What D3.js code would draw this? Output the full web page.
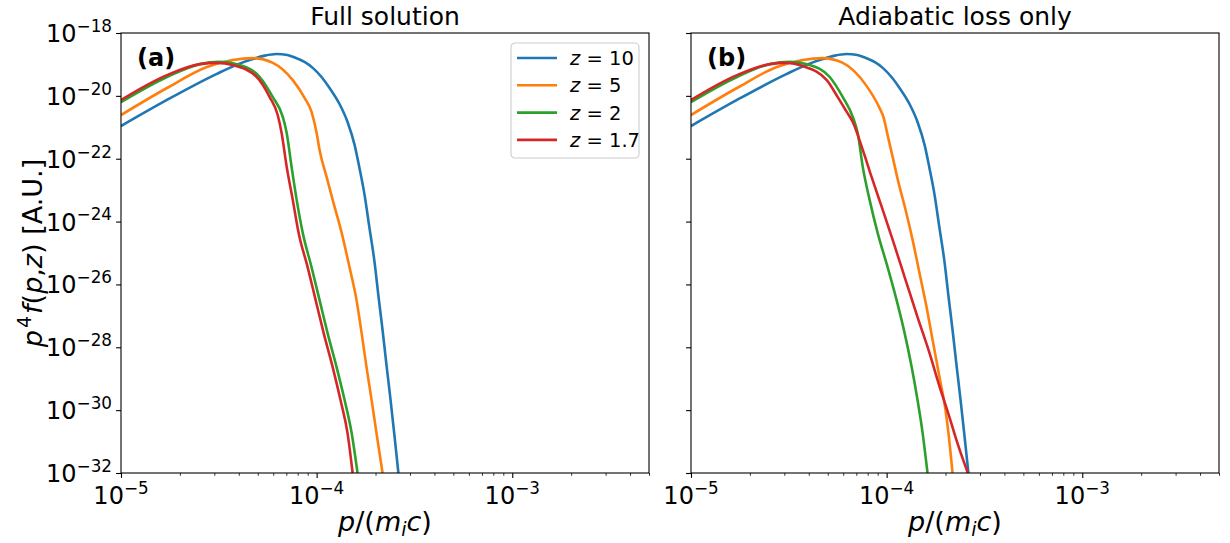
<!DOCTYPE html>
<html><head><meta charset="utf-8">
<script src="https://cdn.jsdelivr.net/npm/d3@7"></script>
<style>body{margin:0;background:#fff}svg{display:block}</style>
</head><body><svg id="c" width="1230" height="543"></svg>
<script>
// ---------- data ----------
const zLabels = ["10", "5", "2", "1.7"];
const colors = ["#1f77b4", "#ff7f0e", "#2ca02c", "#d62728"];
const panelTitles = ["Full solution", "Adiabatic loss only"];
const panelTags = ["(a)", "(b)"];
const xTickExps = [-5, -4, -3];
const yTickExps = [-32, -30, -28, -26, -24, -22, -20, -18];
const xDomain = [1e-5, 5e-3];
const yDomain = [1e-32, 1e-18];

// each point: [log10 p/(m_i c), log10 p^4 f]
const z10 = [[-5.000,-20.96],[-4.765,-20.13],[-4.510,-19.30],[-4.400,-18.99],[-4.327,-18.83],[-4.265,-18.72],[-4.204,-18.67],[-4.150,-18.70],[-4.112,-18.78],[-4.060,-18.93],[-4.020,-19.11],[-3.975,-19.40],[-3.934,-19.75],[-3.883,-20.26],[-3.842,-20.83],[-3.806,-21.56],[-3.781,-22.30],[-3.755,-23.15],[-3.730,-24.20],[-3.704,-25.29],[-3.684,-26.37],[-3.663,-27.45],[-3.643,-28.56],[-3.622,-29.68],[-3.602,-30.82],[-3.582,-32.0]];

const fullZ5 = [[-5.000,-20.61],[-4.765,-19.75],[-4.561,-19.08],[-4.429,-18.86],[-4.327,-18.80],[-4.224,-18.95],[-4.122,-19.50],[-4.061,-20.07],[-4.026,-20.51],[-4.000,-21.18],[-3.985,-21.72],[-3.949,-22.58],[-3.918,-23.31],[-3.872,-24.36],[-3.832,-25.45],[-3.796,-26.50],[-3.770,-27.55],[-3.745,-28.63],[-3.719,-29.68],[-3.694,-30.73],[-3.663,-32.0]];

const fullZ2 = [[-5.000,-20.20],[-4.765,-19.40],[-4.597,-18.99],[-4.495,-18.92],[-4.393,-19.02],[-4.291,-19.40],[-4.224,-20.04],[-4.173,-20.67],[-4.153,-21.18],[-4.128,-22.26],[-4.102,-23.31],[-4.071,-24.36],[-4.026,-25.45],[-3.985,-26.50],[-3.944,-27.55],[-3.898,-28.63],[-3.857,-29.68],[-3.821,-30.73],[-3.791,-32.0]];

const fullZ17 = [[-5.000,-20.13],[-4.765,-19.34],[-4.597,-18.99],[-4.510,-18.95],[-4.429,-19.02],[-4.306,-19.40],[-4.240,-20.04],[-4.199,-20.61],[-4.179,-21.18],[-4.153,-22.26],[-4.122,-23.31],[-4.092,-24.36],[-4.046,-25.45],[-4.005,-26.50],[-3.964,-27.55],[-3.918,-28.63],[-3.878,-29.68],[-3.842,-30.73],[-3.816,-32.0]];

const adiaZ5 = [[-5.000,-20.61],[-4.765,-19.75],[-4.561,-19.08],[-4.429,-18.86],[-4.327,-18.80],[-4.224,-18.95],[-4.102,-19.69],[-4.036,-20.39],[-4.015,-20.70],[-3.995,-21.25],[-3.969,-21.95],[-3.939,-22.77],[-3.903,-23.63],[-3.867,-24.59],[-3.832,-25.64],[-3.796,-26.72],[-3.765,-27.77],[-3.730,-28.94],[-3.699,-30.00],[-3.684,-30.73],[-3.663,-32.0]];

const adiaZ2 = [[-5.000,-20.20],[-4.765,-19.40],[-4.597,-18.99],[-4.495,-18.92],[-4.393,-19.02],[-4.291,-19.40],[-4.224,-20.04],[-4.173,-20.67],[-4.148,-21.18],[-4.122,-22.26],[-4.087,-23.31],[-4.046,-24.36],[-3.995,-25.45],[-3.949,-26.50],[-3.908,-27.55],[-3.872,-28.63],[-3.842,-29.68],[-3.816,-30.73],[-3.791,-32.0]];

const adiaZ17 = [[-5.000,-20.13],[-4.765,-19.34],[-4.597,-18.99],[-4.510,-18.95],[-4.429,-19.05],[-4.306,-19.50],[-4.250,-20.04],[-4.204,-20.51],[-4.173,-20.83],[-4.122,-21.72],[-4.077,-22.58],[-4.020,-23.63],[-3.964,-24.68],[-3.903,-25.86],[-3.842,-27.04],[-3.781,-28.18],[-3.735,-29.14],[-3.679,-30.22],[-3.638,-31.05],[-3.585,-32.0]];

const panelSeries = [
  [z10, fullZ5, fullZ2, fullZ17],
  [z10, adiaZ5, adiaZ2, adiaZ17]
];

// ---------- layout ----------
const FONT = "DejaVu Sans";
const panelX = [121, 691];
const plotTop = 33, W = 528, H = 440;
const svg = d3.select("#c");

const x = d3.scaleLog().domain(xDomain).range([0, W]);
const y = d3.scaleLog().domain(yDomain).range([H, 0]);

function powLabel(sel, exp, size) {
  sel.append("tspan").text("10");
  sel.append("tspan").attr("font-size", size * 0.7).attr("dy", -size * 0.42)
     .text("\u2212" + Math.abs(exp));
}

panelSeries.forEach((series, pi) => {
  const g = svg.append("g").attr("transform", `translate(${panelX[pi]},${plotTop})`);
  const cid = "clip" + pi;
  g.append("clipPath").attr("id", cid).append("rect").attr("width", W).attr("height", H);

  // minor x ticks
  const minor = x.ticks().filter(v => Math.abs(Math.log10(v) - Math.round(Math.log10(v))) > 1e-6);
  g.append("g").attr("transform", `translate(0,${H})`)
    .call(d3.axisBottom(x).tickValues(minor).tickSize(2.8).tickFormat("").tickSizeOuter(0))
    .call(a => a.select(".domain").remove())
    .call(a => a.selectAll("line").attr("stroke", "#000").attr("stroke-width", 0.8));
  // major x ticks
  const xa = g.append("g").attr("transform", `translate(0,${H})`)
    .call(d3.axisBottom(x).tickValues(xTickExps.map(e => Math.pow(10, e))).tickSize(4.9).tickFormat("").tickSizeOuter(0));
  xa.select(".domain").remove();
  xa.selectAll("line").attr("stroke", "#000").attr("stroke-width", 1.1);
  xTickExps.forEach(e => {
    const t = g.append("text").attr("x", x(Math.pow(10, e))).attr("y", H + 31)
      .attr("text-anchor", "middle").attr("font-family", FONT).attr("font-size", 24).attr("fill", "#000");
    powLabel(t, e, 24);
  });

  // y ticks
  const ya = g.append("g")
    .call(d3.axisLeft(y).tickValues(yTickExps.map(e => Math.pow(10, e))).tickSize(4.9).tickFormat("").tickSizeOuter(0));
  ya.select(".domain").remove();
  ya.selectAll("line").attr("stroke", "#000").attr("stroke-width", 1.1);
  if (pi === 0) {
    yTickExps.forEach(e => {
      const t = g.append("text").attr("x", -9).attr("y", y(Math.pow(10, e)) + 9)
        .attr("text-anchor", "end").attr("font-family", FONT).attr("font-size", 24).attr("fill", "#000");
      powLabel(t, e, 24);
    });
  }

  // curves
  const line = d3.line()
    .x(d => x(Math.pow(10, d[0])))
    .y(d => y(Math.pow(10, d[1])))
    .curve(d3.curveMonotoneX);
  const cg = g.append("g").attr("clip-path", `url(#${cid})`);
  series.forEach((s, si) => {
    cg.append("path").datum(s).attr("d", line)
      .attr("fill", "none").attr("stroke", colors[si]).attr("stroke-width", 2.6)
      .attr("stroke-linejoin", "round").attr("stroke-linecap", "butt");
  });

  // frame
  g.append("rect").attr("width", W).attr("height", H)
    .attr("fill", "none").attr("stroke", "#000").attr("stroke-width", 1.1);

  // title
  svg.append("text").attr("x", panelX[pi] + W / 2).attr("y", 25)
    .attr("text-anchor", "middle").attr("font-family", FONT).attr("font-size", 25)
    .attr("fill", "#000").text(panelTitles[pi]);

  // tag
  g.append("text").attr("x", 16).attr("y", 33).attr("font-family", FONT)
    .attr("font-size", 24).attr("font-weight", "bold").attr("fill", "#000").text(panelTags[pi]);

  // x label
  const xl = svg.append("text").attr("x", panelX[pi] + W / 2).attr("y", 531)
    .attr("text-anchor", "middle").attr("font-family", FONT).attr("font-size", 27).attr("fill", "#000");
  xl.append("tspan").attr("font-style", "italic").text("p");
  xl.append("tspan").text("/(");
  xl.append("tspan").attr("font-style", "italic").text("m");
  xl.append("tspan").attr("font-style", "italic").attr("font-size", 19).attr("dy", 5).text("i");
  xl.append("tspan").attr("font-style", "italic").attr("dy", -5).text("c");
  xl.append("tspan").text(")");

  // legend
  if (pi === 0) {
    const lg = g.append("g").attr("transform", `translate(${W - 138},${10})`);
    lg.append("rect").attr("width", 128).attr("height", 115).attr("rx", 4)
      .attr("fill", "#fff").attr("fill-opacity", 0.8).attr("stroke", "#ccc").attr("stroke-width", 1.1);
    zLabels.forEach((lab, i) => {
      const yy = 15 + i * 27.3;
      lg.append("line").attr("x1", 6).attr("x2", 46).attr("y1", yy).attr("y2", yy)
        .attr("stroke", colors[i]).attr("stroke-width", 2.6);
      const t = lg.append("text").attr("x", 59).attr("y", yy + 7).attr("font-family", FONT)
        .attr("font-size", 19.5).attr("fill", "#000");
      t.append("tspan").attr("font-style", "italic").text("z");
      t.append("tspan").text(" = " + lab);
    });
  }
});

// y label
const yl = svg.append("text").attr("transform", "translate(42,253) rotate(-90)")
  .attr("text-anchor", "middle").attr("font-family", FONT).attr("font-size", 27).attr("fill", "#000");
yl.append("tspan").attr("font-style", "italic").text("p");
yl.append("tspan").attr("font-size", 19).attr("dy", -11).attr("dx", 2).text("4");
yl.append("tspan").attr("font-style", "italic").attr("dy", 11).attr("dx", 2).text("f");
yl.append("tspan").text("(");
yl.append("tspan").attr("font-style", "italic").text("p");
yl.append("tspan").text(",");
yl.append("tspan").attr("font-style", "italic").text("z");
yl.append("tspan").text(") [A.U.]");
</script>
</body></html>
